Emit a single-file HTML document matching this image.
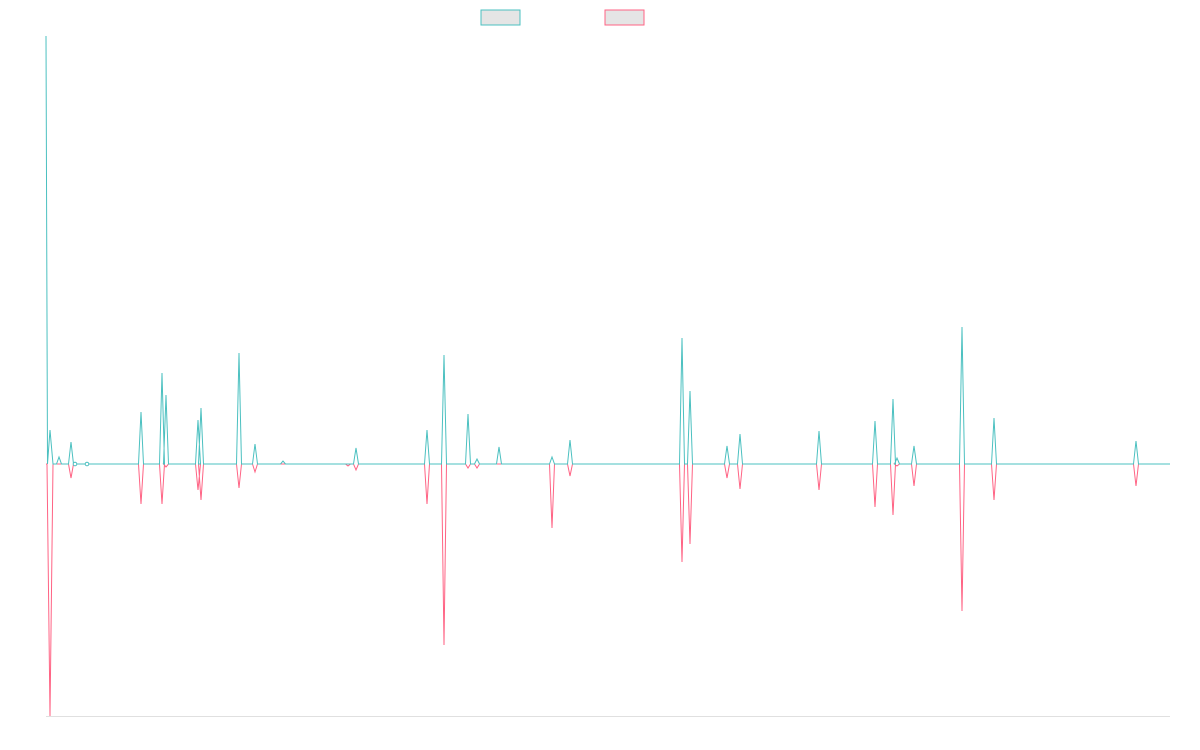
<!DOCTYPE html>
<html><head><meta charset="utf-8"><style>
html,body{margin:0;padding:0;background:#fff;}
svg{display:block}
</style></head><body>
<svg id="s" width="1200" height="750" viewBox="0 0 1200 750">
<rect x="481" y="10" width="39" height="15" fill="#e5e5e5" stroke="#4bc0c0" stroke-width="1"/>
<rect x="605" y="10" width="39" height="15" fill="#e5e5e5" stroke="#ff6384" stroke-width="1"/>
<line x1="46" y1="716.5" x2="1170" y2="716.5" stroke="#e0e0e0" stroke-width="1"/>
<polyline id="pk" fill="none" stroke="#ff6384" stroke-width="1"/>
<polyline id="tl" fill="none" stroke="#4bc0c0" stroke-width="1"/>
<circle cx="75" cy="464" r="1.8" fill="#fff" stroke="#4bc0c0"/>
<circle cx="87" cy="464" r="1.8" fill="#fff" stroke="#4bc0c0"/>
</svg>
<script>
var B=464;
var sp=[[59,457,464],[71,442,478],[141,412,504],[162,373,504],[166,395,467],[198,420,490],[201,408,500],[239,353,488],[255,444,472],[283,461,464],[348,464,466],[356,448,470],[427,430,504],[444,355,645],[468,414,468],[477,459,468],[499,447,464],[552,457,528],[570,440,476],[682,338,562],[690,391,544],[727,446,478],[740,434,489],[819,431,490],[875,421,507],[893,399,515],[897,458,466],[914,446,486],[962,327,611],[994,418,500],[1136,441,486]];
var t=[[46,36],[47.5,464],[50,430],[53,464]],p=[[46,464],[47,464],[50,716],[53,464]];
sp.forEach(function(s){t.push([s[0]-2.5,B],[s[0],s[1]],[s[0]+2.5,B]);p.push([s[0]-2.5,B],[s[0],s[2]],[s[0]+2.5,B]);});
t.push([1170,B]);p.push([1170,B]);
function f(a){return a.map(function(q){return q[0]+","+q[1]}).join(" ");}
document.getElementById("tl").setAttribute("points",f(t));
document.getElementById("pk").setAttribute("points",f(p));
</script>
</body></html>
